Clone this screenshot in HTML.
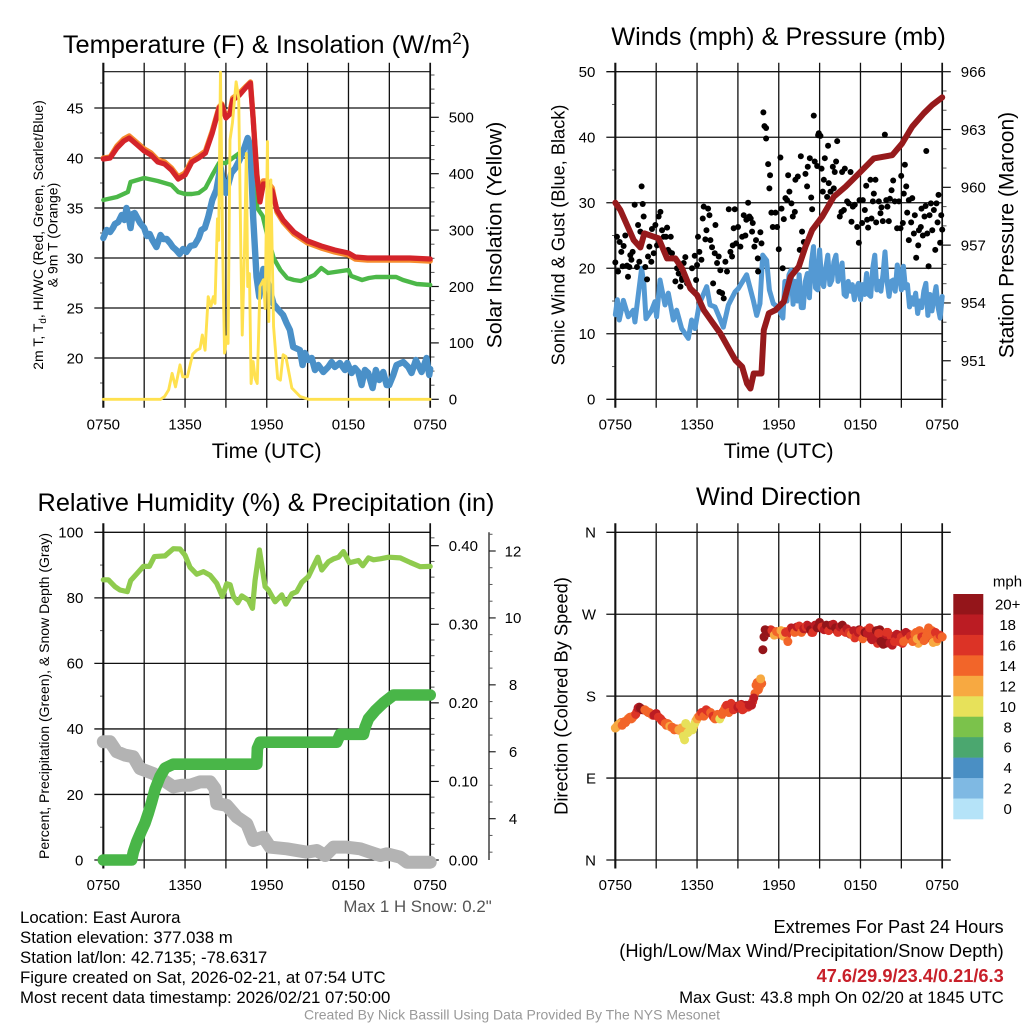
<!DOCTYPE html>
<html lang="en">
<head>
<meta charset="utf-8">
<title>NYS Mesonet Station Meteogram - East Aurora</title>
<style>
html,body{margin:0;padding:0;background:#fff;width:1024px;height:1024px;overflow:hidden}
svg{display:block}
text{font-family:"Liberation Sans",sans-serif;fill:#000}
</style>
</head>
<body>
<svg id="chart" xmlns="http://www.w3.org/2000/svg" width="1024" height="1024" viewBox="0 0 1024 1024">
<rect x="0" y="0" width="1024" height="1024" fill="#fff"/>
<text x="266.5" y="53" font-size="25.4" text-anchor="middle">Temperature (F) &amp; Insolation (W/m<tspan dy="-9" font-size="17">2</tspan><tspan dy="9">)</tspan></text>
<text x="778.5" y="45" font-size="25.3" text-anchor="middle">Winds (mph) &amp; Pressure (mb)</text>
<text x="266" y="511" font-size="25.3" text-anchor="middle">Relative Humidity (%) &amp; Precipitation (in)</text>
<text x="778.5" y="505" font-size="25.4" text-anchor="middle">Wind Direction</text>

<text x="266.7" y="458" font-size="21.2" text-anchor="middle">Time (UTC)</text>
<text x="778.7" y="458" font-size="21.2" text-anchor="middle">Time (UTC)</text>

<text transform="translate(43,235) rotate(-90)" font-size="14" text-anchor="middle">2m T, T<tspan dy="3" font-size="9.8">d</tspan><tspan dy="-3">, HI/WC (Red, Green, Scarlet/Blue)</tspan></text>
<text transform="translate(57.5,235) rotate(-90)" font-size="14" text-anchor="middle">&amp; 9m T (Orange)</text>
<text transform="translate(501.7,235) rotate(-90)" font-size="21.2" text-anchor="middle">Solar Insolation (Yellow)</text>
<text transform="translate(564.7,235) rotate(-90)" font-size="18.2" text-anchor="middle">Sonic Wind &amp; Gust (Blue, Black)</text>
<text transform="translate(1013.7,235) rotate(-90)" font-size="21" text-anchor="middle">Station Pressure (Maroon)</text>
<text transform="translate(49,696) rotate(-90)" font-size="14" text-anchor="middle">Percent, Precipitation (Green), &amp; Snow Depth (Gray)</text>
<text transform="translate(567.3,696) rotate(-90)" font-size="18.3" text-anchor="middle">Direction (Colored By Speed)</text>

<text x="491.7" y="912" font-size="16.85" text-anchor="end" style="fill:#555">Max 1 H Snow: 0.2"</text>
<text x="20" y="923" font-size="16.8">Location: East Aurora</text>
<text x="20" y="943" font-size="16.8">Station elevation: 377.038 m</text>
<text x="20" y="963" font-size="16.8">Station lat/lon: 42.7135; -78.6317</text>
<text x="20" y="983" font-size="16.8">Figure created on Sat, 2026-02-21, at 07:54 UTC</text>
<text x="20" y="1003" font-size="16.8">Most recent data timestamp: 2026/02/21 07:50:00</text>

<text x="1003.7" y="933" font-size="18.25" text-anchor="end">Extremes For Past 24 Hours</text>
<text x="1003.7" y="957" font-size="18.25" text-anchor="end">(High/Low/Max Wind/Precipitation/Snow Depth)</text>
<text x="1003.7" y="982" font-size="18.2" font-weight="bold" text-anchor="end" style="fill:#c8202a">47.6/29.9/23.4/0.21/6.3</text>
<text x="1003.7" y="1003" font-size="16.8" text-anchor="end">Max Gust: 43.8 mph On 02/20 at 1845 UTC</text>
<text x="512" y="1019.5" font-size="14" text-anchor="middle" style="fill:#999">Created By Nick Bassill Using Data Provided By The NYS Mesonet</text>
</svg>

<script>
/* ---------- shared tick data ---------- */
const timeTicks = [0,3,6,9,12,15,18,21,24];
const timeLabelHours = [0,6,12,18,24];
const timeLabels = ['0750','1350','1950','0150','0750'];

/* ---------- temperature panel data ---------- */
const tempTicks = [20,25,30,35,40,45];
const tempMinorTicks = [17.5,22.5,27.5,32.5,37.5,42.5,47.5];
const solarTicks = [0,100,200,300,400,500];
const solarMinorTicks = [25,50,75,125,150,175,225,250,275,325,350,375,425,450,475,525,550,575];
const tempTimes = [0,.5,1,1.5,1.9,2.5,3,3.5,4,4.5,5,5.5,6,6.5,7,7.5,8,8.5,8.7,9,9.3,9.5,10,10.5,10.8,11,11.27,11.5,11.75,12,12.4,12.75,13.2,14,15,16,17,18,18.5,19.4,21,22.5,24];
const tempValues = [39.9,40,41,41.7,42,41.3,40.7,40.3,39.6,39.4,38.8,37.9,38.3,39.6,40,40.5,42.5,45,45.3,44,44.4,45.8,46.3,47.1,47.5,43.9,38.3,35.6,37.4,37.4,36.7,34.8,33.8,32.6,31.7,31.2,30.8,30.5,30.1,30,30,30,29.9];
const nineMeterTempValues = [40,40.1,41.2,41.9,42.2,41.5,40.9,40.5,39.8,39.6,39,38.1,38.5,39.8,40.2,40.7,42.7,45.1,45.4,44.1,44.6,46,46.5,47.2,47.6,44,38.4,35.8,37.7,37.7,37,34.6,33.6,32.4,31.5,31,30.6,30.3,29.9,29.8,29.8,29.8,29.7];
const greenTimes = [0,1,1.8,2,3,4,5,5.5,6,6.5,7,7.5,8,8.5,9,9.5,10,10.5,11,11.3,11.7,12,12.5,13,13.5,14,14.5,15,15.5,16,16.5,17,18,18.2,19,19.5,20,21.5,22,23,24];
const greenValues = [35.8,36.1,36.6,37.6,38,37.7,37.3,36.6,36.4,36.4,36.5,37,38.3,39.5,39.5,40,40.5,41.1,41.6,35,34.2,32.5,30,28.8,28,27.8,27.7,28,28.3,29,28.5,28.6,28.8,28.2,27.8,28,28.1,28.1,27.8,27.4,27.3];
const dewTimes = [0,.25,.5,.7,.85,1.1,1.35,1.55,1.7,1.85,2,2.15,2.3,2.5,2.7,3,3.2,3.4,3.6,3.9,4.2,4.4,4.65,4.9,5.1,5.35,5.6,5.85,6.1,6.4,6.7,7,7.2,7.45,7.7,8,8.3,8.6,8.9,9,9.4,9.7,10,10.3,10.6,10.8,11,11.25,11.45,11.75,12.1,12.5,12.8,13.2,13.45,13.7,13.94,14.43,14.63,14.8,15.05,15.3,15.54,15.78,16.15,16.51,16.76,17,17.37,17.74,17.91,18.23,18.47,18.72,18.96,19.21,19.45,19.77,20.01,20.26,20.55,20.8,20.99,21.29,21.53,22.02,22.39,22.63,22.95,23.37,23.73,23.93,24];
const dewValues = [32,32.8,32.6,33,33.4,33.6,34.3,33.8,35,34.2,33,34.4,34.5,34,33.5,33,32.2,32.4,31.8,31.1,32.3,31.9,31.9,31.5,31.1,30.8,30.4,30.9,30.6,31.2,31.3,32,32.8,33,34.1,35.8,36.8,39.1,37,36.5,38.5,39,39.8,40.8,42,41.1,34.1,28.1,26.1,28.9,27.4,25.4,24.9,24.3,23.5,22.8,21.1,20.8,19.3,20.5,19.8,20,18.8,19.3,18.6,19.1,19.6,19.1,19.5,18.8,19.5,18.5,19,18.6,17.3,18.8,18.5,17,18.8,17.8,18.6,17.3,17.3,18.3,19.3,19.6,19.1,18.5,19.8,18.6,20,18.3,18.9];
const solarTimes = [0,4.2,4.5,4.8,5.05,5.3,5.63,5.83,6.17,6.56,6.86,7.1,7.27,7.47,7.7,7.9,8.08,8.2,8.38,8.47,8.6,8.77,8.9,9.06,9.16,9.3,9.48,9.75,9.94,10.1,10.2,10.36,10.5,10.6,10.73,10.85,11,11.15,11.3,11.5,11.76,11.88,12.05,12.15,12.3,12.5,12.8,13,13.2,13.4,13.84,14.45,15.06,24];
const solarValues = [0,0,5,17,46,22,61,40,40,80,87,90,114,87,182,165,182,170,320,282,580,258,82,111,99,460,490,563,534,258,114,258,436,200,223,28,67,37,28,200,212,161,457,138,389,129,37,34,79,76,20,5,0,0];

/* ---------- winds panel data ---------- */
const windTicks = [0,10,20,30,40,50];
const windMinorTicks = [5,15,25,35,45];
const pressureTicks = [951,954,957,960,963,966];
const pressureMinorTicks = [949,950,952,953,955,956,958,959,961,962,964,965];
const pressureTimes = [0,.37,.86,1.35,1.84,2.13,2.69,3.18,3.8,4.41,4.9,5.51,6,6.49,7.1,7.71,8.33,8.82,9.31,9.67,9.92,10.16,10.41,10.73,10.9,11.27,11.76,12.37,12.86,13.47,13.96,14.45,15.18,16.04,16.9,17.88,18.98,20.33,21.06,21.8,22.65,23.27,24];
const pressureValues = [959.2,958.82,958.04,957.26,956.88,957.61,957.47,957.35,956.31,956.31,955.79,954.75,954.41,953.63,953.02,952.42,951.64,951.03,950.69,949.82,949.56,950.34,950.34,950.34,952.59,953.46,953.63,954.06,955.36,955.88,956.92,957.78,958.47,959.51,960.03,960.72,961.5,961.67,962.28,963.15,963.84,964.27,964.67];
const windTimes = [0,.15,.29,.59,.95,1.32,1.44,1.69,1.93,2.1,2.25,2.67,2.91,3.03,3.28,3.65,3.89,4.26,4.5,4.87,5.36,5.6,5.85,6.17,6.71,6.95,7.32,7.68,7.93,8.3,8.79,9.03,9.64,10.13,10.38,10.62,10.82,11.11,11.31,11.6,11.97,12.3,12.45,12.6,12.75,12.9,13.05,13.2,13.35,13.5,13.65,13.8,13.95,14.1,14.25,14.4,14.55,14.7,14.85,15,15.15,15.3,15.45,15.6,15.75,15.9,16.05,16.2,16.35,16.5,16.65,16.8,16.95,17.1,17.25,17.4,17.55,17.7,17.85,18,18.15,18.3,18.45,18.6,18.75,18.9,19.05,19.2,19.35,19.5,19.65,19.8,19.95,20.1,20.25,20.4,20.55,20.7,20.85,21,21.15,21.3,21.45,21.6,21.75,21.9,22.05,22.2,22.35,22.5,22.65,22.8,22.95,23.1,23.25,23.4,23.55,23.7,23.85,24];
const windValues = [12.9,15.2,12.1,15.1,12.6,13.6,11.8,16,20,17.5,12.3,13.6,14.9,12.6,18.2,14.4,16.2,12.1,13.6,10.8,9.3,12.1,10.8,14.6,17.2,14.4,14.1,12.3,11,14.4,16.4,16.9,19,15.1,12.8,14.6,22,21.2,16.7,14.6,14,12.4,18,15,19,19.7,14.5,18,15,19,14,14,18,19.2,15.5,21,23.3,17,16.7,22.8,18,17.2,20,22,17.5,18.2,21,22,18,19,20.8,16,15.7,18,16.5,17.5,15.2,17,17.7,15.2,17.5,16,19.2,16,15.7,20,22,16.7,18,16.5,19,22.5,18,15.7,18,18.2,16.5,20.5,19,16.7,20.3,17,17.5,14.1,15.5,14.5,16.2,13.1,15,14,16.5,17.7,12.8,16,13.5,15.5,17.2,14,12.4,15.7];
const gustTimes = [0,.12,.2,.32,.44,.61,.54,.73,.86,.93,1.03,1.1, 1.18,1.27,1.42,1.59,1.67,1.76,1.84,1.93,2.01,2.08,2.2,2.33, 2.4,2.5,2.64,2.69,2.82,2.94,3.06,3.18,3.31,3.43,3.55,3.62, 3.72,3.8,3.87,3.97,4.07,4.16,4.26,4.41,4.53,4.65,4.78,4.9, 5.02,5.14,4.9,5.27,5.63,5.83,5.93,6,6.07,6.17,6.32,6.42, 6.49,6.61,6.69,6.81,6.91,6.98,7.1,7.18,7.3,7.35,7.47,7.59, 7.64,7.71,7.84,7.96,8.08,8.2,8.33,8.45,8.57,8.62,8.77,8.69, 8.87,9.01,9.18,9.31,9.43,9.55,9.62,9.75,9.84,9.94,10.09,10.04, 10.21,10.33,10.46,10.48,10.65,10.73,10.87,10.95,11.07,11.07,11.22,11.31, 11.36,11.46,11.56,11.76,11.88,12,12.12,12.2,12.29,12.37,12.49,12.61, 12.69,12.78,12.93,13.03,13.18,13.22,13.4,13.54,13.62,13.71,13.84,13.96, 14.08,14.13,14.28,14.38,14.45,14.57,14.64,14.82,14.89,14.94,15.06,15.14, 15.23,15.31,15.38,15.55,15.67,15.62,15.8,15.97,16.04,16.11,16.21,16.29, 16.48,16.6,16.65,16.78,16.85,17.02,17.14,17.27,17.34,17.44,17.58,17.76, 17.88,17.93,18.12,18.17,18.32,18.42,18.49,18.56,18.73,18.81,18.91,18.98, 19.1,19.15,19.35,19.47,19.54,19.64,19.79,19.89,19.98,20.08,20.16,20.28, 20.4,20.52,20.69,20.82,20.94,20.99,21.11,21.18,21.26,21.36,21.43,21.55, 21.55,21.72,21.8,21.92,21.99,22.09,22.24,22.29,22.43,22.48,22.58,22.7, 22.78,22.83,22.9,23,23.07,23.17,23.27,23.39,23.49,23.58,23.66,23.73, 23.85,23.93,24];
const gustValues = [20.9,24.8,19.5,24,22.5,23.4,20.3,25,20.4,18.7,20.2,22, 21.3,22.5,29.7,20.2,26.6,21,25.6,32.5,29.8,27.9,20.2,18.3, 21.8,23.3,21,26,22.3,26.6,23.5,27.9,28.6,25.8,24.8,22.5, 24.8,26.2,22.8,22.5,24.8,22.3,21.5,18,20,19.2,17.2,18.5, 20.8,21.7,18.2,17.7,20,21.9,18.2,20.5,24.8,22.5,21.3,27.6, 29.4,24.4,25.8,29.1,28.1,24.3,23.2,17.7,22.3,26.6,20.8,21.8, 16.4,19.7,16.2,15.4,21,19.5,29,22.5,21.8,23.5,29,26.1, 23.8,26.3,23.3,24.8,28.1,25,27.4,30,27.9,27.6,26.9,25.6, 23.3,24.3,21.5,19.5,25.5,23.8,43.8,41.7,41.4,39.8,35.9,32.2, 34.2,28.5,26.3,28.5,26.3,22.9,36.9,29.1,20,27.5,30.7,30.4, 34.2,31.7,29.9,27.9,28.6,33.5,34,22.8,37.1,25.6,24,34.4, 32.5,35.5,36.8,30.8,29,43.3,36.3,35.6,40.3,40.6,40.2,35.2, 31.7,33.5,36.8,30.9,33,38.7,31.7,35.5,32.2,34.7,36.3,39.4, 27.9,28.6,34.7,28.9,35.2,30.2,29.9,34.7,27.1,29.4,29.7,26.3, 23.9,30.4,26.9,30.4,28.9,32.6,27.4,26.2,33.5,27.6,30.2,31.4, 33.5,27,30.2,28.4,29.3,27.2,40.4,30.4,29.4,27.2,30.6,31.9, 33.4,30.2,26.1,30.2,26.1,34.1,26.9,31.4,35.8,32.5,28.5,24.3, 30.4,27,30.7,25.3,28.1,21.6,23.5,25.8,26.3,29.1,25,27.9, 29.5,37.9,25.3,20.3,28.1,29.9,25.8,28.9,22.8,29.9,27,31.2, 23.9,28.1,25.9];

/* ---------- humidity panel data ---------- */
const humidityTicks = [0,20,40,60,80,100];
const humidityMinorTicks = [10,30,50,70,90];
const precipTicks = [0,0.1,0.2,0.3,0.4];
const precipTickLabels = ['0.00','0.10','0.20','0.30','0.40'];
const precipMinorTicks = [.02,.04,.06,.08,.12,.14,.16,.18,.22,.24,.26,.28,.32,.34,.36,.38,.41];
const snowTicks = [4,6,8,10,12];
const snowMinorTicks = [3,3.5,4.5,5,5.5,6.5,7,7.5,8.5,9,9.5,10.5,11,11.5,12.5];
const humidityTimes = [0,.37,.86,1.22,1.76,2.01,2.45,2.94,3.38,3.75,4.53,5.14,5.63,6,6.37,6.86,7.35,7.84,8.33,8.74,9.06,9.31,9.55,9.87,10.16,10.65,10.95,11.14,11.46,11.88,12.12,12.61,13.1,13.4,13.84,14.2,14.57,15.06,15.31,15.75,16.04,16.53,16.9,17.27,17.63,18.07,18.73,19.05,19.47,19.84,20.33,20.94,21.8,22.53,23.27,24];
const humidityValues = [85.5,85.5,83.4,82.4,81.9,85.3,87.3,89.6,89.6,92.6,92.8,95,94.9,93,89.3,87.2,88,86.9,84.4,80.4,84.3,84,80.4,78.5,80.6,79.3,76.8,85.3,94.6,83.4,82.4,78.8,80.9,78.1,81.2,81.9,84.7,86.5,88.7,92.4,88.5,91,91.9,92.4,94.1,90.7,91.4,89.8,92.2,91.6,91.9,92.4,92.2,90.8,89.5,89.6];
const snowTimes = [0,.49,.98,1.59,2.2,2.69,3.67,4.41,5.14,5.76,6.37,7.1,7.84,8.2,8.33,9.06,9.8,10.53,11.02,11.76,12.25,13.47,14.94,15.67,16.29,16.9,17.88,18.86,19.59,20.33,20.82,21.8,22.29,24];
const snowValues = [6.3,6.3,6,5.9,5.85,5.5,5.35,5.15,4.95,5,5,5.1,5.1,4.9,4.45,4.4,4.05,3.85,3.35,3.45,3.15,3.1,3,3.05,2.9,3.15,3.15,3.1,3,2.9,2.95,2.85,2.7,2.7];
const precipTimes = [0,2.08,2.2,2.45,2.82,3.06,3.31,3.55,3.8,4.16,4.53,5.14,11.27,11.31,11.51,17.14,17.39,19.1,19.22,19.47,19.96,20.57,21.31,24];
const precipValues = [0,0,.01,.023,.038,.047,.06,.074,.09,.106,.117,.122,.122,.142,.15,.15,.16,.16,.169,.18,.19,.2,.21,.21];

/* ---------- wind direction panel data ---------- */
const directionTicks = [0,90,180,270,360];
const directionLabels = ['N','E','S','W','N'];
/* readings on the ten-minute mark */
const directionValues = [145,148,150,148,152,153, 156,155,158,160,167,167, 165,165,163,162,160,159, 161,157,155,152,150,150, 147,146,143,144,143,145, 136,150,140,145,143,150, 155,158,162,158,165,163, 162,158,155,160,155,160, 165,170,162,172,165,168, 168,170,165,167,168,170, 170,178,192,187,199,231, 253,251,250,252,247,251, 250,252,246,250,240,252, 254,250,256,257,250,254, 256,257,253,250,258,255, 261,256,253,258,252,258, 259,255,250,256,258,251, 254,250,248,252,245,250, 252,243,250,249,255,242, 244,252,249,240,237,238, 250,238,236,240,248,240, 245,240,250,243,246,240, 248,243,252,245,241,246, 255,248,239,250,243,247, 245];
const directionSpeeds = [12,13,12,14,14,14, 14,14,14,16,18,20, 20,15,14,14,15,18, 19,16,17,16,14,15, 13,14,15,14,12,13, 10,10,10,11,10,11, 13,14,16,15,17,16, 14,16,15,15,11,14, 15,16,15,17,16,17, 18,17,17,17,17,18, 19,18,15,15,12,20, 22,21,20,16,13,14, 15,13,12,17,15,17, 18,14,19,17,15,18, 16,19,20,16,18,21, 21,17,19,20,17,20, 19,21,17,18,21,16, 19,17,15,18,16,19, 17,15,20,19,16,18, 18,21,17,20,20,21, 16,18,19,17,19,16, 17,15,19,14,16,14, 14,12,15,16,15,14, 14,15,13,17,14,16, 15];
/* readings five minutes after each ten-minute mark */
const directionValuesOffset = [146,149,151,150,151,155, 157,156,159,163,168,166, 165,164,162,161,159,160, 158,156,153,151,148,149, 146,145,144,143,144,140, 132,146,142,143,147,153, 157,160,160,163,164,162, 160,156,158,157,158,163, 168,166,170,168,166,169, 167,171,166,170,168,171, 174,183,195,190,194,245, 252,250,253,249,250,248, 249,247,251,247,252,255, 253,255,252,256,252,255, 258,254,250,256,257,259, 257,254,256,254,255,257, 256,252,254,257,253,250, 252,248,250,244,248,253, 246,249,252,247,244,250, 247,238,253,239,244,250, 242,246,239,245,243,247, 238,249,244,248,242,245, 250,238,246,243,247,251, 244,252,246,240,246,246];
const directionSpeedsOffset = [13,12,14,13,15,13, 14,15,14,17,20,20, 18,14,15,16,17,19, 17,15,16,15,14,13, 14,13,12,14,13,12, 10,11,10,11,12,13, 15,16,15,17,15,15, 15,15,13,16,14,16, 14,17,16,16,17,18, 18,18,17,19,16,19, 17,15,14,13,14,21, 20,19,17,15,14,15, 14,16,14,16,14,18, 16,19,17,18,20,16, 18,20,17,19,20,19, 20,18,17,21,18,19, 17,20,19,16,19,17, 16,18,14,17,15,20, 16,19,17,21,20,17, 19,16,21,21,19,17, 18,16,17,19,20,15, 16,18,15,15,14,13, 15,13,14,13,16,15, 16,14,15,13,15,14];
const legendLabels = ['20+','18','16','14','12','10','8','6','4','2','0'];
const speedPalette = ['#b5e3f8','#7fb9e3','#4a8fc4','#4ba76f','#7bc24b','#e7e15a','#f7a941','#f26529','#dc3326','#bb1c23','#94151a'];

/* ---------- drawing helpers ---------- */
const svg = document.getElementById('chart');
const NS = 'http://www.w3.org/2000/svg';
function linear(d0,d1,r0,r1){ return function(v){ return r0+(v-d0)*(r1-r0)/(d1-d0); }; }

function hairline(x1,y1,x2,y2,width,color,name){
  const el = document.createElementNS(NS,'line');
  el.setAttribute('x1',x1); el.setAttribute('y1',y1);
  el.setAttribute('x2',x2); el.setAttribute('y2',y2);
  el.setAttribute('stroke',color); el.setAttribute('stroke-width',width);
  
  
  svg.appendChild(el);
}
function label(x,y,str,anchor,name){
  const el = document.createElementNS(NS,'text');
  el.setAttribute('x',x); el.setAttribute('y',y);
  el.setAttribute('font-size','15');
  el.setAttribute('text-anchor',anchor);
  el.textContent = str;
  
  
  svg.appendChild(el);
}
function series(times,values,xs,ys,width,color,name){
  const el = document.createElementNS(NS,'polyline');
  el.setAttribute('points',values.map(function(v,i){ return xs(times[i]).toFixed(2)+','+ys(v).toFixed(2); }).join(' '));
  el.setAttribute('fill','none');
  el.setAttribute('stroke',color);
  el.setAttribute('stroke-width',width);
  el.setAttribute('stroke-linejoin','round');
  el.setAttribute('stroke-linecap','round');
  
  
  svg.appendChild(el);
}
function dot(cx,cy,r,color,name){
  const el = document.createElementNS(NS,'circle');
  el.setAttribute('cx',cx.toFixed(2)); el.setAttribute('cy',cy.toFixed(2));
  el.setAttribute('r',r); el.setAttribute('fill',color);
  
  
  svg.appendChild(el);
}
const GRID = '#111';
const LEFT1 = 103.33, LEFT2 = 615.33, PLOT_W = 326.87;
const TOP1 = 71.7, BOT1 = 399.3, TOP2 = 532.3, BOT2 = 860;

function timeAxis(xs,top,bottom,labelY,prefix){
  timeTicks.forEach(function(t){
    hairline(xs(t),top-9,xs(t),bottom+8.5,t===0?2.1:(t===24?1.7:1.3),GRID,prefix+'-time-gridline');
  });
  timeLabelHours.forEach(function(t,i){
    label(xs(t),labelY,timeLabels[i],'middle',prefix+'-time-label');
  });
}
function leftAxis(ticks,minor,ys,x0,x1,prefix,text){
  ticks.forEach(function(v,i){
    hairline(x0-9,ys(v),x1,ys(v),1.3,GRID,prefix+'-y-gridline');
    label(x0-20,ys(v)+5.3,text?text[i]:String(v),'end',prefix+'-y-label');
  });
  minor.forEach(function(v){
    hairline(x0-3.3,ys(v),x0,ys(v),1,'#555',prefix+'-y-minor-tick');
  });
}
function rightAxis(ticks,minor,ys,x1,prefix,text){
  ticks.forEach(function(v,i){
    hairline(x1,ys(v),x1+8.6,ys(v),1.2,GRID,prefix+'-right-tick');
    label(x1+18.6,ys(v)+5.3,text?text[i]:String(v),'start',prefix+'-right-label');
  });
  minor.forEach(function(v){
    hairline(x1,ys(v),x1+4.3,ys(v),1,'#555',prefix+'-right-minor-tick');
  });
}

/* ---------- panel 1: temperature and insolation ---------- */
(function(){
  const xs = linear(0,24,LEFT1,LEFT1+PLOT_W);
  const yTemp = linear(20,45,358,108);
  const ySolar = linear(0,500,BOT1,117.3);
  leftAxis(tempTicks,tempMinorTicks,yTemp,LEFT1,LEFT1+PLOT_W,'temperature');
  rightAxis(solarTicks,solarMinorTicks,ySolar,LEFT1+PLOT_W,'solar');
  timeAxis(xs,TOP1,BOT1,429.3,'temperature');
  hairline(LEFT1,TOP1,LEFT1+PLOT_W,TOP1,1.2,GRID,'temperature-plot-top');
  hairline(LEFT1,BOT1,LEFT1+PLOT_W,BOT1,1.2,GRID,'temperature-plot-bottom');
  series(greenTimes,greenValues,xs,yTemp,4.4,'#4cb848','green-temperature-line');
  series(dewTimes,dewValues,xs,yTemp,6.4,'#4a90c8','blue-temperature-line');
  series(tempTimes,nineMeterTempValues,xs,yTemp,5.4,'#f68b2e','nine-meter-temperature-line');
  series(tempTimes,tempValues,xs,yTemp,5.2,'#d4242a','two-meter-temperature-line');
  series(solarTimes,solarValues,xs,ySolar,2.9,'#ffe14f','solar-insolation-line');
})();

/* ---------- panel 2: winds and pressure ---------- */
(function(){
  const xs = linear(0,24,LEFT2,LEFT2+PLOT_W);
  const yWind = linear(0,50,BOT1,TOP1);
  const yPress = linear(949,966,BOT1,TOP1);
  leftAxis(windTicks,windMinorTicks,yWind,LEFT2,LEFT2+PLOT_W,'winds');
  rightAxis(pressureTicks,pressureMinorTicks,yPress,LEFT2+PLOT_W,'pressure');
  timeAxis(xs,TOP1,BOT1,429.3,'winds');
  series(windTimes,windValues,xs,yWind,5,'#5499d3','sonic-wind-line');
  gustValues.forEach(function(v,i){
    dot(xs(gustTimes[i]),yWind(v),3,'#000','wind-gust-point');
  });
  series(pressureTimes,pressureValues,xs,yPress,6,'#961a1c','station-pressure-line');
})();

/* ---------- panel 3: humidity, precipitation, snow depth ---------- */
(function(){
  const xs = linear(0,24,LEFT1,LEFT1+PLOT_W);
  const yHum = linear(0,100,BOT2,TOP2);
  const yPrecip = linear(0,0.4,BOT2,545.7);
  const ySnow = linear(4,12,818.7,551);
  leftAxis(humidityTicks,humidityMinorTicks,yHum,LEFT1,LEFT1+PLOT_W,'humidity');
  rightAxis(precipTicks,precipMinorTicks,yPrecip,LEFT1+PLOT_W,'precipitation',precipTickLabels);
  timeAxis(xs,TOP2,BOT2,890,'humidity');
  hairline(489,TOP2,489,BOT2,1.4,'#333','snow-depth-axis');
  snowTicks.forEach(function(v){
    hairline(489,ySnow(v),495.7,ySnow(v),1.1,GRID,'snow-depth-tick');
    label(513,ySnow(v)+5.3,String(v),'middle','snow-depth-label');
  });
  snowMinorTicks.forEach(function(v){
    hairline(489,ySnow(v),492.5,ySnow(v),1,'#555','snow-depth-minor-tick');
  });
  series(humidityTimes,humidityValues,xs,yHum,5.2,'#8fcb4e','relative-humidity-line');
  series(snowTimes,snowValues,xs,ySnow,13,'#b3b3b3','snow-depth-line');
  series(precipTimes,precipValues,xs,yPrecip,11.6,'#49b648','precipitation-line');
})();

/* ---------- panel 4: wind direction ---------- */
(function(){
  const xs = linear(0,24,LEFT2,LEFT2+PLOT_W);
  const yDir = linear(0,360,BOT2,TOP2);
  directionTicks.forEach(function(v,i){
    hairline(LEFT2-9,yDir(v),LEFT2+PLOT_W+8.6,yDir(v),1.3,GRID,'direction-y-gridline');
    label(596,yDir(v)+5.3,directionLabels[i],'end','direction-y-label');
  });
  timeAxis(xs,TOP2,BOT2,890,'direction');
  directionValuesOffset.forEach(function(v,i){
    const bin = Math.min(10,Math.floor(directionSpeedsOffset[i]/2));
    dot(xs((i+0.5)/6),yDir(v),4.5,speedPalette[bin],'wind-direction-point');
  });
  directionValues.forEach(function(v,i){
    const bin = Math.min(10,Math.floor(directionSpeeds[i]/2));
    dot(xs(i/6),yDir(v),4.5,speedPalette[bin],'wind-direction-point');
  });
  const boxH = 225/legendLabels.length;
  legendLabels.forEach(function(txt,i){
    const rect = document.createElementNS(NS,'rect');
    rect.setAttribute('x',953.3);
    rect.setAttribute('y',594+i*boxH);
    rect.setAttribute('width',30);
    rect.setAttribute('height',boxH+0.3);
    rect.setAttribute('fill',speedPalette[legendLabels.length-1-i]);
    
    
    svg.appendChild(rect);
    label(1007.7,594+i*boxH+boxH/2+5.3,txt,'middle','speed-legend-label');
  });
  label(1007.5,586.7,'mph','middle','speed-legend-units');
})();
</script>
</body>
</html>
